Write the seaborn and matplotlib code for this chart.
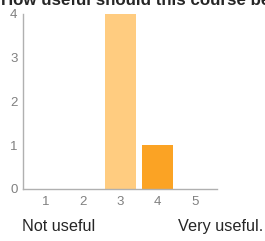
import matplotlib
matplotlib.use("Agg")
import matplotlib.pyplot as plt
import seaborn as sns
import pandas as pd

# Survey answers: rating -> number of responses
ratings = ["1", "2", "3", "4", "5"]
counts = [0, 0, 4, 1, 0]
bar_colors = ["#ffcc80", "#ffcc80", "#ffcc80", "#fba324", "#fba324"]

title = "How useful should this course be for you?"
low_label = "Not useful"
high_label = "Very useful."

sns.set_style("white")
plt.rcParams["font.family"] = ["Liberation Sans", "DejaVu Sans"]

df = pd.DataFrame({"rating": ratings, "count": counts})

fig = plt.figure(figsize=(2.65, 2.41), dpi=100)
ax = fig.add_axes([0.087, 0.216, 0.732, 0.726])

sns.barplot(data=df, x="rating", y="count", hue="rating", order=ratings,
            palette=dict(zip(ratings, bar_colors)), width=0.85,
            saturation=1, linewidth=0, legend=False, ax=ax)

ax.set_xlim(-0.62, 4.6)
ax.set_ylim(0, 4)
ax.set_yticks([0, 1, 2, 3, 4])
ax.set_xlabel("")
ax.set_ylabel("")
for s in ["top", "right"]:
    ax.spines[s].set_visible(False)
for s in ["left", "bottom"]:
    ax.spines[s].set_color("#b0b0b0")
    ax.spines[s].set_linewidth(1)
ax.tick_params(axis="both", length=3, width=0.8, color="#b0b0b0",
               labelcolor="#808080", labelsize=9.5, pad=1)
ax.tick_params(axis="x", pad=2)

fig.text(0.004, 1 - 5 / 241, title, fontsize=12.2, fontweight="bold",
         va="baseline", ha="left")
fig.text(22 / 265, 1 - 231 / 241, low_label, fontsize=11.7,
         va="baseline", ha="left")
fig.text(178 / 265, 1 - 231 / 241, high_label, fontsize=11.7,
         va="baseline", ha="left")

fig.savefig("out.png", dpi=100)
